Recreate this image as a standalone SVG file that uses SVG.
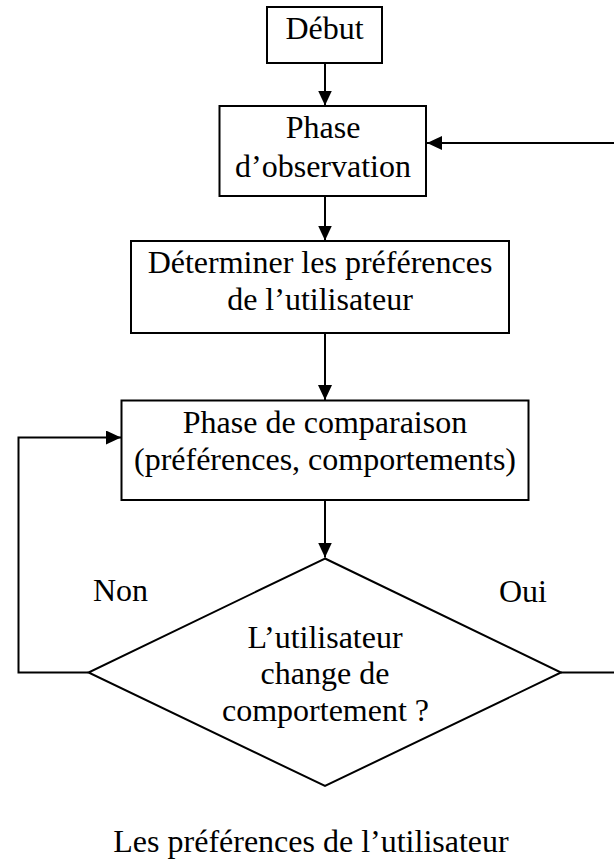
<svg xmlns="http://www.w3.org/2000/svg" width="614" height="867" viewBox="0 0 614 867">
  <style>
    .box { fill: #ffffff; stroke: #000000; stroke-width: 2; }
    .edge { fill: none; stroke: #000000; stroke-width: 2; }
    .t { font-family: "Liberation Serif", "Times New Roman", serif; font-size: 32px; fill: #000000; }
    .c { text-anchor: middle; }
  </style>
  <defs>
    <marker id="arrow" markerUnits="userSpaceOnUse" markerWidth="16" markerHeight="14" refX="15" refY="7" orient="auto">
      <path d="M0,0 L15,7 L0,14 z" fill="#000000"/>
    </marker>
  </defs>
  <rect width="614" height="867" fill="#ffffff"/>

  <g id="connectors">
    <line class="edge" x1="325" y1="63" x2="325" y2="105.5" marker-end="url(#arrow)"/>
    <line class="edge" x1="325" y1="196" x2="325" y2="240.5" marker-end="url(#arrow)"/>
    <line class="edge" x1="325" y1="333" x2="325" y2="400" marker-end="url(#arrow)"/>
    <line class="edge" x1="325" y1="500" x2="325" y2="557.5" marker-end="url(#arrow)"/>
    <polyline class="edge" points="88.5,672.5 18.5,672.5 18.5,437.5 121,437.5" marker-end="url(#arrow)"/>
    <polyline class="edge" points="561,672.5 640,672.5 640,143 427,143" marker-end="url(#arrow)"/>
  </g>

  <g id="debut">
    <rect class="box" x="267" y="7" width="115" height="56"/>
    <text class="t c" x="324.5" y="38.5">Début</text>
  </g>

  <g id="observation">
    <rect class="box" x="219.5" y="106" width="206.5" height="90"/>
    <text class="t c" x="323" y="138">Phase</text>
    <text class="t c" x="323" y="177">d’observation</text>
  </g>

  <g id="preferences">
    <rect class="box" x="131" y="241" width="378" height="92"/>
    <text class="t c" x="320" y="273">Déterminer les préférences</text>
    <text class="t c" x="320" y="310">de l’utilisateur</text>
  </g>

  <g id="comparaison">
    <rect class="box" x="121.5" y="400.5" width="407" height="99.5"/>
    <text class="t c" x="325" y="432.5">Phase de comparaison</text>
    <text class="t c" x="325" y="470">(préférences, comportements)</text>
  </g>

  <g id="decision">
    <polygon class="box" points="325,558.5 561,672.5 325,786 88.5,672.5"/>
    <text class="t c" x="325" y="647.5">L’utilisateur</text>
    <text class="t c" x="325" y="684">change de</text>
    <text class="t c" x="325.5" y="721">comportement ?</text>
  </g>

  <g id="labels">
    <text class="t" x="93" y="601">Non</text>
    <text class="t" x="499" y="601.5">Oui</text>
  </g>

  <g id="resultat">
    <text class="t c" x="311" y="852">Les préférences de l’utilisateur</text>
  </g>
</svg>
